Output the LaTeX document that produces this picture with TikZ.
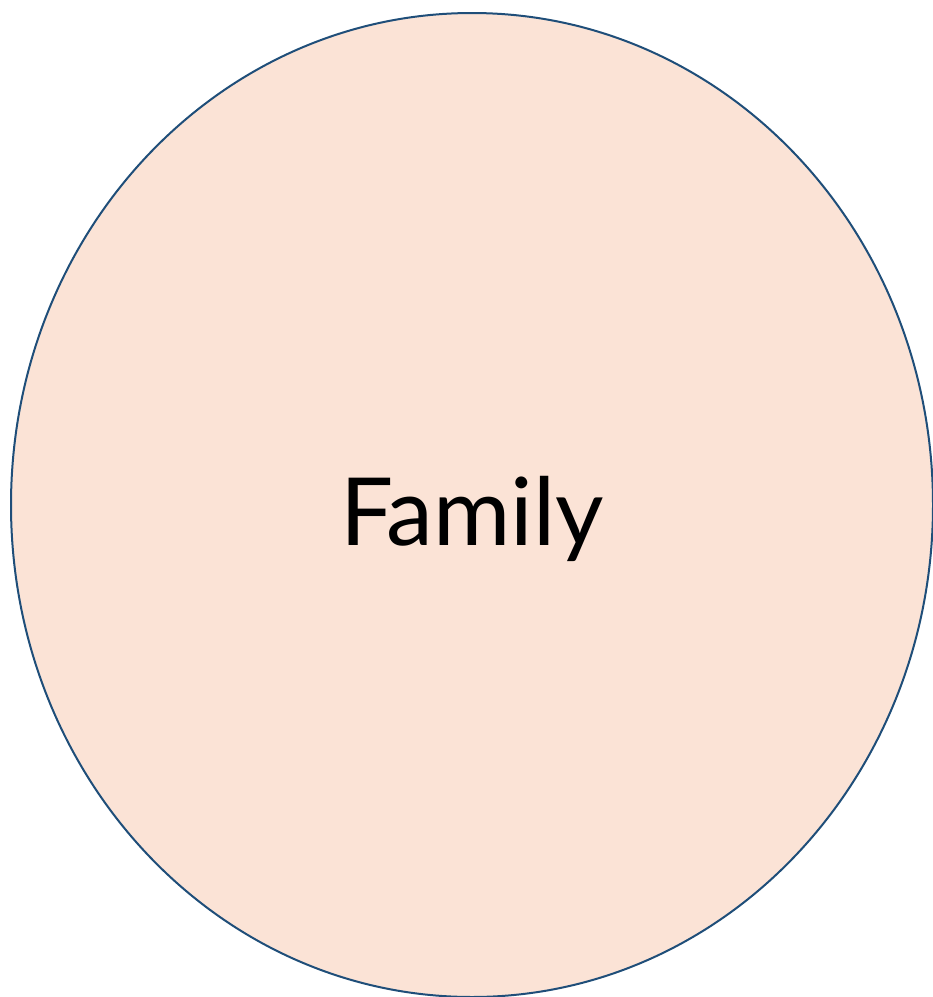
\documentclass[tikz,border=0pt]{standalone}
\usepackage{fontspec}
\setmainfont{Lato}
\usetikzlibrary{shapes.geometric}
\definecolor{fillpeach}{HTML}{FBE3D6}
\definecolor{edgeblue}{HTML}{1F4E79}
\tikzset{bubble/.style={ellipse, draw=edgeblue, fill=fillpeach, line width=2pt, minimum width=922pt, minimum height=984pt, inner sep=0pt}}
\begin{document}
\begin{tikzpicture}[x=1pt,y=-1pt]
\useasboundingbox (0,0) rectangle (933,997);
\node[bubble] (family) at (472,505) {};
\node[font=\fontsize{94}{100}\selectfont] (label) at (472,519) {Family};
\end{tikzpicture}
\end{document}
